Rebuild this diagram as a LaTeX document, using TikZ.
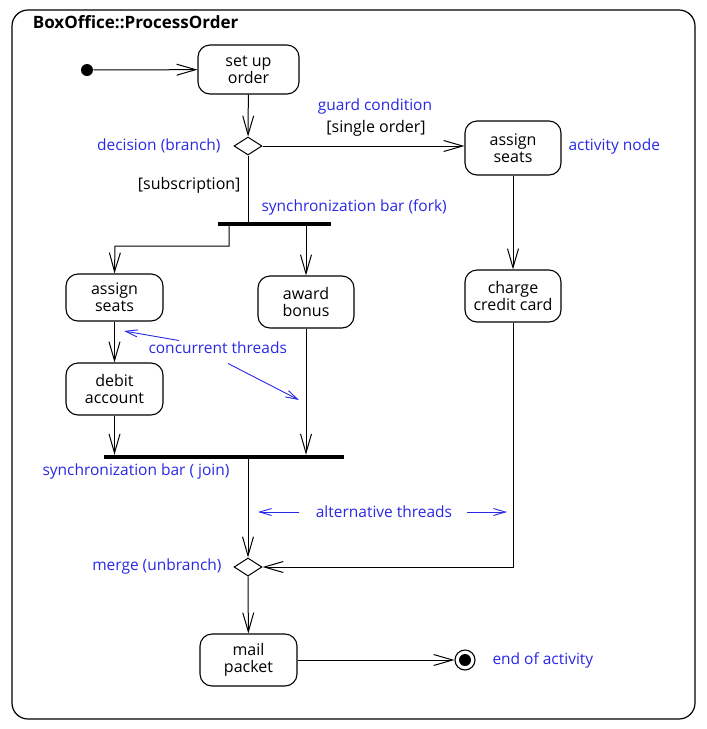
\documentclass[tikz,border=0pt]{standalone}
\usepackage{fontspec}
\setmainfont{Open Sans}
\usetikzlibrary{arrows.meta,shapes.geometric,positioning}

\definecolor{noteblue}{RGB}{40,40,230}
\newcommand\actfont{\fontsize{16}{17}\selectfont}
\newcommand\notefont{\fontsize{15.5}{17}\selectfont}

\begin{document}
\begin{tikzpicture}[x=1pt, y=-1pt, line width=1pt,
  act/.style={draw, line width=1.1pt, rounded corners=12pt, align=center,
    inner sep=2pt, font=\actfont},
  decide/.style={draw, diamond, minimum width=28pt, minimum height=18pt, inner sep=0pt},
  syncbar/.style={fill=black, inner sep=0pt, minimum height=3.5pt},
  flow/.style={-{Straight Barb[length=19pt,width=11pt]}},
  note/.style={text=noteblue, font=\notefont, inner sep=2pt},
  guard/.style={font=\actfont, inner sep=2pt},
  noteflow/.style={noteblue, line width=0.9pt, -{Straight Barb[length=12pt,width=7pt]}}]
  \useasboundingbox (0,0) rectangle (707,729);

  % frame of the activity
  \draw[line width=1.2pt, rounded corners=16pt] (12,10) rectangle (695,719);
  \node[anchor=west, font=\fontsize{17}{18}\selectfont\bfseries] (ttl) at (29,22) {BoxOffice::ProcessOrder};

  % start and first action
  \node[circle, fill=black, minimum size=12pt, inner sep=0pt] (init) at (87,70) {};
  \node[act, minimum width=101pt, minimum height=49pt] (setup) at (248.5,69.5) {set up\\order};
  \node[decide] (dec) at (248,146) {};

  % single order branch
  \node[act, minimum width=96pt, minimum height=54pt] (seatsR) at (513,148) {assign\\seats};
  \node[act, minimum width=96pt, minimum height=52pt] (charge) at (513,296) {charge\\credit card};

  % subscription branch
  \node[syncbar, minimum width=113pt] (fork) at (274.5,224) {};
  \node[act, minimum width=97pt, minimum height=47pt] (seatsL) at (114.5,297.5) {assign\\seats};
  \node[act, minimum width=96pt, minimum height=52pt] (bonus) at (306,302) {award\\bonus};
  \node[act, minimum width=97pt, minimum height=52pt] (debit) at (114.5,389) {debit\\account};
  \node[syncbar, minimum width=240pt] (join) at (223.5,457) {};

  % merge and end
  \node[decide] (merge) at (248,567) {};
  \node[act, minimum width=97pt, minimum height=52pt] (mail) at (248.5,660) {mail\\packet};
  \node[circle, draw, line width=1.1pt, minimum size=20pt, inner sep=0pt,
    path picture={\fill (path picture bounding box.center) circle (6pt);}] (final) at (465,660) {};

  % connectors
  \coordinate (forkL) at (229,224);
  \coordinate (bendL) at (115,246);
  \draw[flow] (init) -- (setup);
  \draw[flow] (setup) -- (dec);
  \draw[flow] (dec.east) -- (seatsR.west |- dec.east);
  \draw (dec.south) -- (dec.south |- fork.north);
  \draw[flow] (forkL) |- (bendL) -- (seatsL.north);
  \draw[flow] (fork.south -| bonus.north) -- (bonus.north);
  \draw[flow] (seatsL) -- (debit);
  \draw[flow] (debit) -- (debit.south |- join.north);
  \draw[flow] (bonus) -- (bonus.south |- join.north);
  \draw[flow] (join.south -| merge.north) -- (merge.north);
  \draw[flow] (seatsR) -- (charge);
  \draw[flow] (charge.south) |- (merge.east);
  \draw[flow] (merge) -- (mail);
  \draw[flow] (mail) -- (final);

  % labels
  \node[note, anchor=east] (decLbl) at (223,146) {decision (branch)};
  \node[note] (guardLbl) at (375,106) {guard condition};
  \node[guard] (singleLbl) at (376,128) {[single order]};
  \node[note, anchor=west] (actLbl) at (566,146) {activity node};
  \node[guard, anchor=east] (subLbl) at (243,185) {[subscription]};
  \node[note, anchor=west] (forkLbl) at (259,207) {synchronization bar (fork)};
  \node[note, anchor=west] (concLbl) at (146,348) {concurrent threads};
  \node[note, anchor=west] (joinLbl) at (40,471) {synchronization bar ( join)};
  \node[note] (altLbl) at (384,512) {alternative threads};
  \node[note, anchor=east] (mergeLbl) at (224,566) {merge (unbranch)};
  \node[note, anchor=west] (endLbl) at (490,660) {end of activity};

  % annotation arrows
  \coordinate (concTipA) at (124,331);
  \coordinate (concTipB) at (299,400);
  \coordinate (altTipL) at (258,512);
  \coordinate (altTipR) at (507,512);
  \draw[noteflow] ([shift={(33pt,-1pt)}]concLbl.north west) -- (concTipA);
  \draw[noteflow] ([shift={(82pt,-7pt)}]concLbl.south west) -- (concTipB);
  \draw[noteflow] ([xshift=-14pt]altLbl.west) -- (altTipL);
  \draw[noteflow] ([xshift=12pt]altLbl.east) -- (altTipR);
\end{tikzpicture}
\end{document}
